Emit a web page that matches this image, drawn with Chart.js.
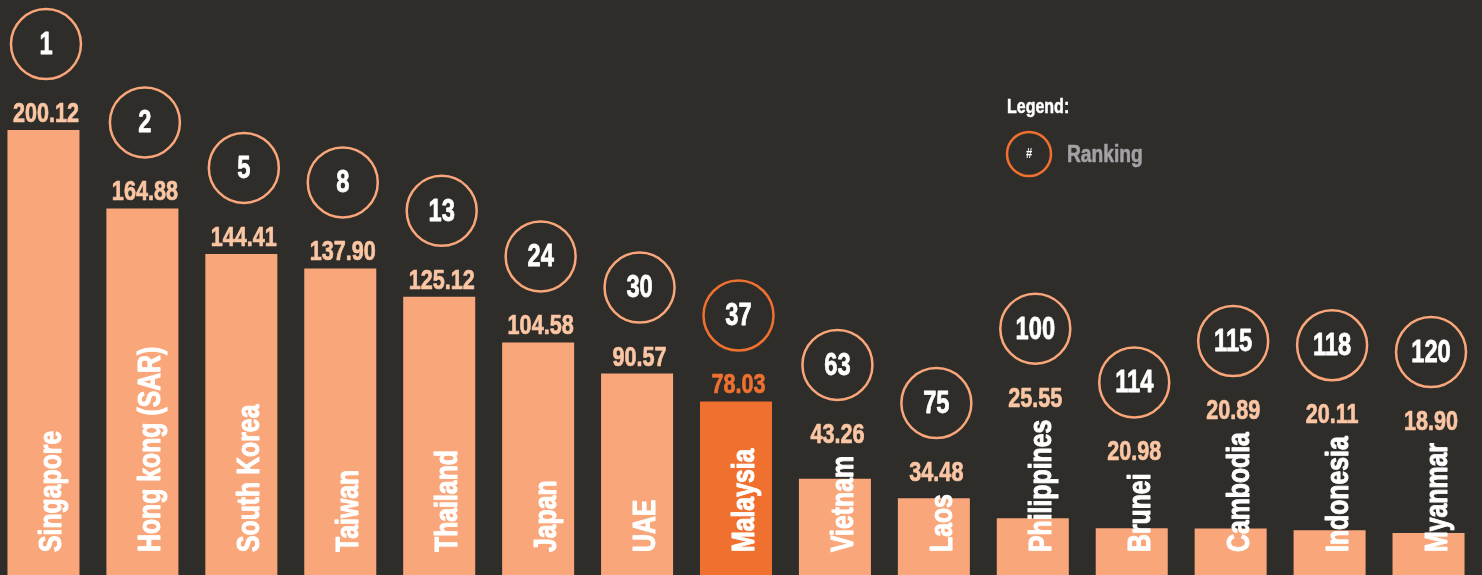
<!DOCTYPE html>
<html>
<head>
<meta charset="utf-8">
<script src="https://cdn.jsdelivr.net/npm/chart.js@4"></script>
<style>
  html, body { margin: 0; padding: 0; background: #2f2d2a; overflow: hidden; }
  #wrap { position: absolute; left: -6px; top: 0; width: 1484px; height: 575px; }
</style>
</head>
<body>
<div id="wrap"><canvas id="chart" width="1484" height="575"></canvas></div>
<script>
// Data
const countries = ['Singapore', 'Hong kong (SAR)', 'South Korea', 'Taiwan', 'Thailand', 'Japan', 'UAE',
    'Malaysia', 'Vietnam', 'Laos', 'Philippines', 'Brunei', 'Cambodia', 'Indonesia', 'Myanmar'];
const values = [200.12, 164.88, 144.41, 137.90, 125.12, 104.58, 90.57, 78.03, 43.26, 34.48, 25.55, 20.98, 20.89, 20.11, 18.90];
const ranks = [1, 2, 5, 8, 13, 24, 30, 37, 63, 75, 100, 114, 115, 118, 120];
const highlight = 'Malaysia';

// Colours
const SALMON = '#f8a67a';
const ORANGE = '#f07030';
const LABEL = '#fbc6a4';
const FONT = '"Liberation Sans", Arial, sans-serif';
const SHIFT = 6;     // canvas is shifted left by this many px

const barColors = countries.map(c => c === highlight ? ORANGE : SALMON);

// condensed (and slightly heavier) text helper
function narrowText(ctx, text, x, y, squeeze, weight){
    ctx.save();
    ctx.translate(x, y);
    ctx.scale(squeeze, 1);
    if(weight){
        ctx.lineWidth = weight;
        ctx.lineJoin = 'round';
        ctx.strokeStyle = ctx.fillStyle;
        ctx.strokeText(text, 0, 0);
    }
    ctx.fillText(text, 0, 0);
    const w = ctx.measureText(text).width * squeeze;
    ctx.restore();
    return w;
}

// Draw names, values, rank circles, legend
const annotations = {
    id: 'annotations',
    afterDatasetsDraw(chart){
        const ctx = chart.ctx;
        const meta = chart.getDatasetMeta(0);
        const base = chart.scales.y.getPixelForValue(0);
        ctx.save();
        meta.data.forEach((bar, i) => {
            const hl = countries[i] === highlight;

            // country name, rotated, inside bar
            ctx.save();
            ctx.font = 'bold 31px ' + FONT;
            ctx.fillStyle = '#ffffff';
            ctx.textAlign = 'left';
            ctx.textBaseline = 'alphabetic';
            ctx.translate(bar.x + 18, base - 23);
            ctx.rotate(-Math.PI / 2);
            const w = narrowText(ctx, countries[i], 0, 0, 0.8, 1);
            ctx.restore();

            const nameTop = base - 23 - w;
            const labelY = Math.min(bar.y - 8, nameTop - 13);
            const cx = bar.x + 2.5;

            // value
            ctx.font = 'bold 27px ' + FONT;
            ctx.fillStyle = hl ? ORANGE : LABEL;
            ctx.textAlign = 'center';
            ctx.textBaseline = 'alphabetic';
            narrowText(ctx, values[i].toFixed(2), cx, labelY, 0.8, 0.7);

            // rank circle
            const cy = labelY - 78;
            ctx.beginPath();
            ctx.arc(cx, cy, 35, 0, Math.PI * 2);
            ctx.lineWidth = 2.5;
            ctx.strokeStyle = hl ? ORANGE : SALMON;
            ctx.stroke();
            ctx.font = 'bold 32px ' + FONT;
            ctx.fillStyle = '#ffffff';
            ctx.textBaseline = 'middle';
            narrowText(ctx, String(ranks[i]), cx, cy + 1, 0.74, 0.8);
        });

        // legend
        ctx.textAlign = 'left';
        ctx.textBaseline = 'alphabetic';
        ctx.font = 'bold 20px ' + FONT;
        ctx.fillStyle = '#ffffff';
        narrowText(ctx, 'Legend:', 1007 + SHIFT, 113, 0.8, 0.5);

        ctx.beginPath();
        ctx.arc(1029 + SHIFT, 154, 22, 0, Math.PI * 2);
        ctx.lineWidth = 2.5;
        ctx.strokeStyle = ORANGE;
        ctx.stroke();
        ctx.font = 'bold 14px ' + FONT;
        ctx.textAlign = 'center';
        ctx.textBaseline = 'middle';
        narrowText(ctx, '#', 1029 + SHIFT, 154, 0.8, 0);

        ctx.font = 'bold 24px ' + FONT;
        ctx.fillStyle = '#a3a1a3';
        ctx.textAlign = 'left';
        ctx.textBaseline = 'alphabetic';
        narrowText(ctx, 'Ranking', 1067 + SHIFT, 162, 0.8, 0.6);
        ctx.restore();
    }
};

new Chart(document.getElementById('chart'), {
    type: 'bar',
    data: {
        labels: countries,
        datasets: [{
            data: values,
            backgroundColor: barColors,
            borderWidth: 0,
            barPercentage: 0.728,
            categoryPercentage: 1
        }]
    },
    options: {
        responsive: false,
        animation: false,
        layout: { padding: 0 },
        plugins: { legend: { display: false }, tooltip: { enabled: false } },
        scales: {
            x: { display: false },
            y: { display: false, min: 0, max: 258.6 }
        }
    },
    plugins: [annotations]
});
</script>
</body>
</html>
